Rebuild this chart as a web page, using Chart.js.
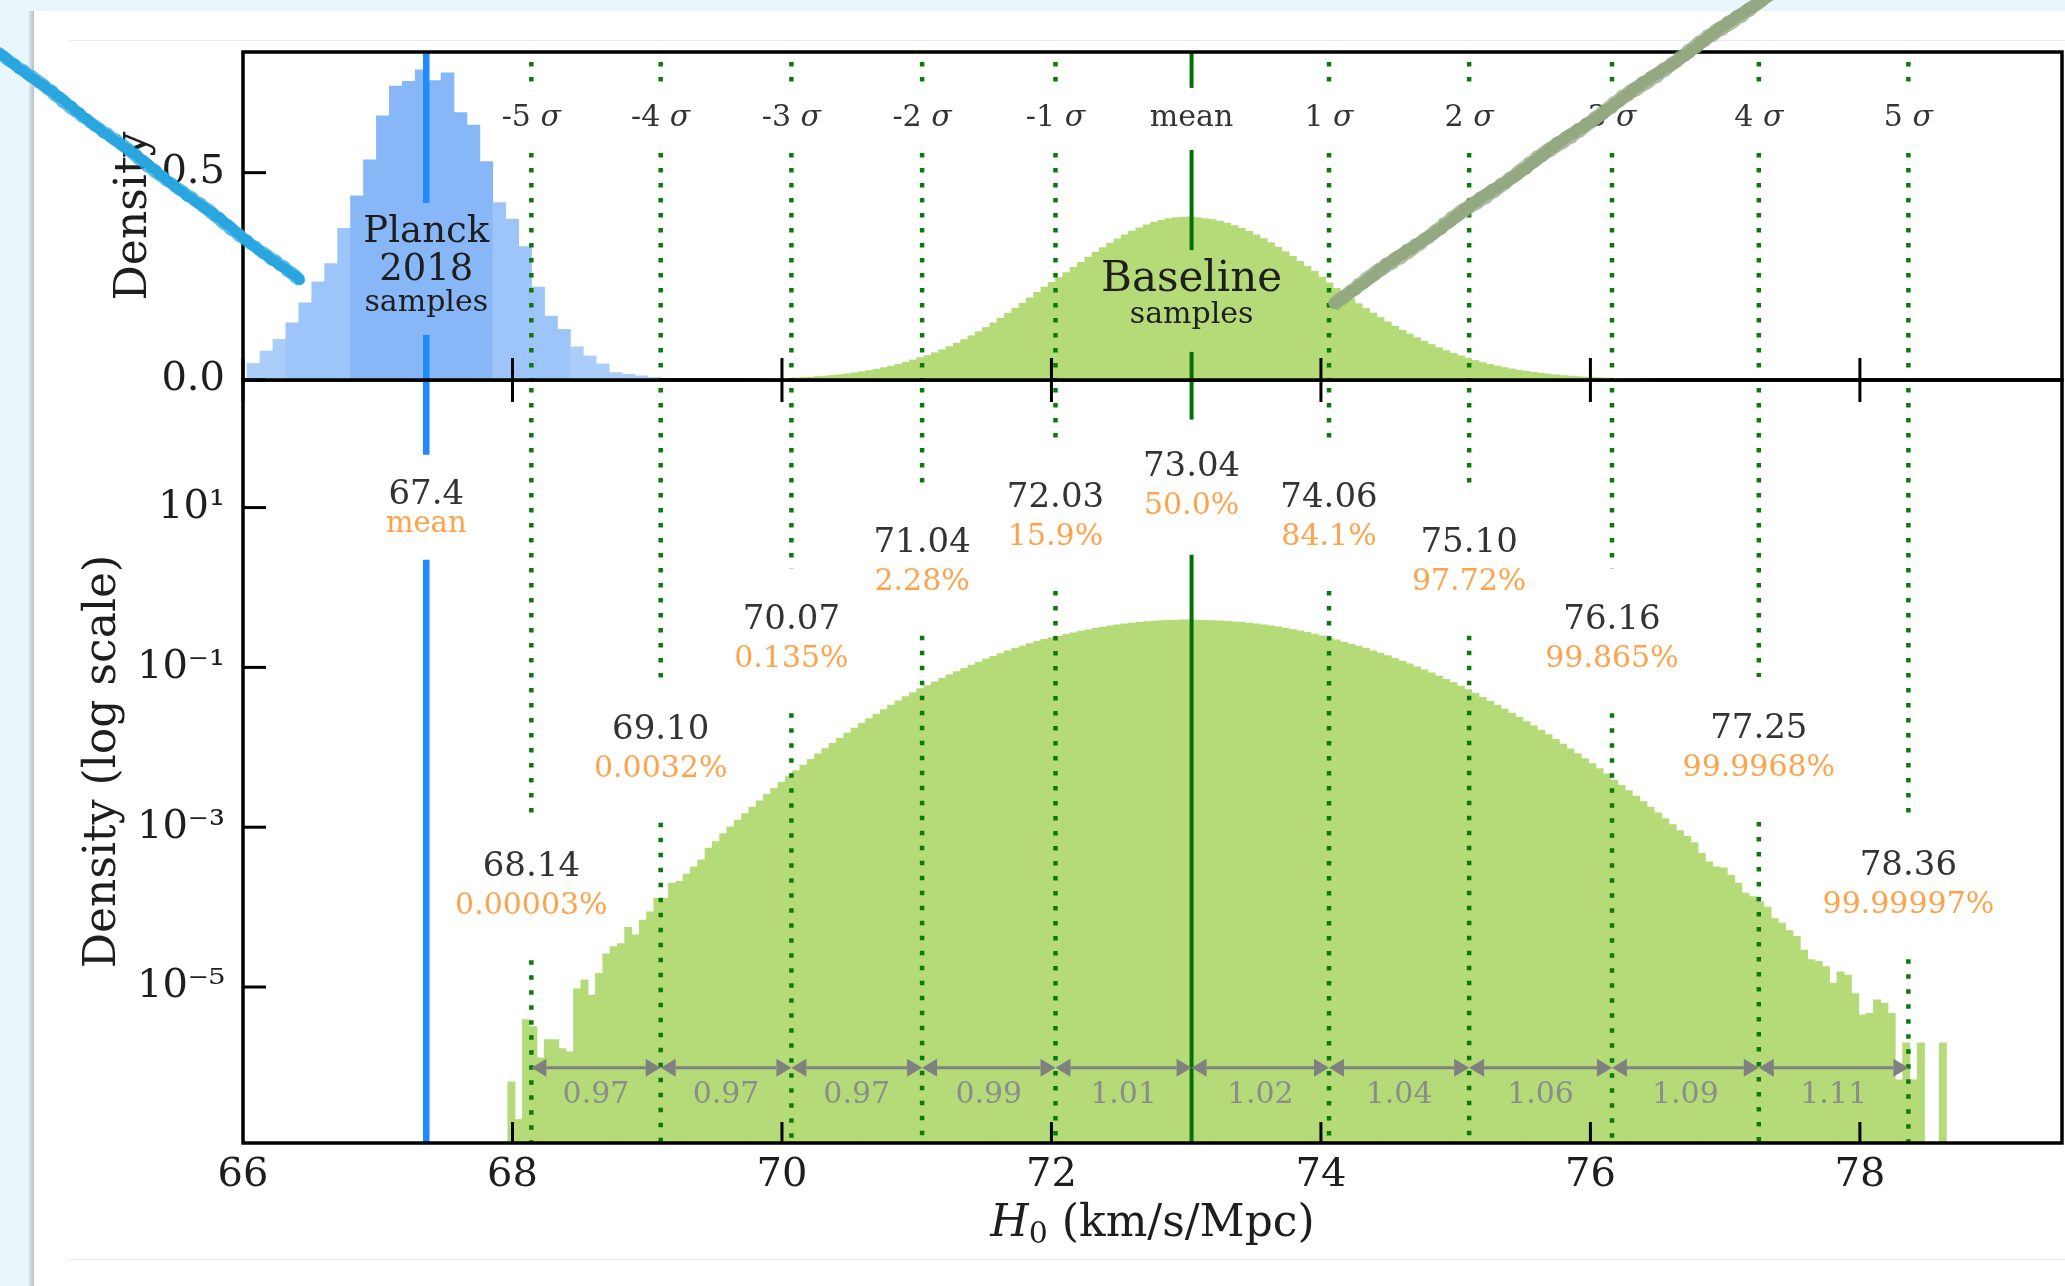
<!DOCTYPE html>
<html>
<head>
<meta charset="utf-8">
<script src="https://cdn.jsdelivr.net/npm/chart.js@4.4.0/dist/chart.umd.min.js"></script>
<style>
  html, body { margin: 0; padding: 0; }
  body { width: 2065px; height: 1286px; background: #e9f6fc; position: relative; overflow: hidden; }
  #sheet { position: absolute; left: 34px; top: 11px; right: 0; bottom: 0; background: #fff; }
  #shadow { position: absolute; left: 29px; top: 11px; width: 5px; bottom: 0; background: linear-gradient(to right, #dbe6ec, #b4c0c8); }
  .rule { position: absolute; left: 68px; right: 0; height: 1px; background: #ececec; }
  canvas { position: absolute; left: 0; top: 0; }
</style>
</head>
<body>
<div id="shadow"></div>
<div id="sheet"></div>
<div class="rule" style="top:40px"></div>
<div class="rule" style="top:1259px"></div>
<canvas id="bottomChart" width="2065" height="1286"></canvas>
<canvas id="topChart" width="2065" height="1286"></canvas>
<script>
// Planck 2018 H0 samples, density per bin
const planckBinStart = 66.03;
const planckBinWidth = 0.096;
const planckDensity = [
  0.040, 0.070, 0.098, 0.138, 0.186, 0.237, 0.281, 0.366, 0.444, 0.531,
  0.637, 0.709, 0.720, 0.748, 0.722, 0.741, 0.645, 0.615, 0.527, 0.428,
  0.388, 0.322, 0.224, 0.154, 0.122, 0.080, 0.058, 0.039, 0.018, 0.014,
  0.010, 0.006,
];
const planckOneSigma = [66.80, 67.86];
const planckTwoSigma = [66.31, 68.43];
const planckMean = 67.36;
const planckLabels = ["67.4", "mean"];

const baselineBinStart = 67.965;
const baselineBinWidth = 0.0542;
const baselineDensity = [
  6.5e-7, 2.2e-7, 3.9e-6, 3.2e-6, 1.3e-6, 2.2e-6, 2.2e-6, 1.7e-6, 1.55e-6, 9.5e-6,
  1.23e-5, 7.9e-6, 1.48e-5, 2.6e-5, 3.2e-5, 3.5e-5, 5.6e-5, 4.5e-5, 6.9e-5, 8.7e-5,
  1.29e-4, 1.29e-4, 2.0e-4, 2.1e-4, 2.6e-4, 3.2e-4, 3.9e-4, 5.5e-4, 6.6e-4, 8.3e-4,
  1.01e-3, 1.23e-3, 1.48e-3, 1.79e-3, 2.14e-3, 2.57e-3, 3.06e-3, 3.64e-3, 4.31e-3, 5.10e-3,
  6.01e-3, 7.06e-3, 8.26e-3, 9.64e-3, 0.0112, 0.0130, 0.0151, 0.0174, 0.0199, 0.0228,
  0.0261, 0.0297, 0.0337, 0.0381, 0.0430, 0.0483, 0.0542, 0.0592, 0.0658, 0.0730,
  0.0806, 0.0888, 0.0975, 0.1068, 0.1166, 0.1269, 0.1377, 0.1490, 0.1607, 0.1728,
  0.1853, 0.1981, 0.2112, 0.2238, 0.2357, 0.2470, 0.2588, 0.2715, 0.2840, 0.2962,
  0.3081, 0.3195, 0.3304, 0.3406, 0.3502, 0.3590, 0.3670, 0.3741, 0.3802, 0.3853,
  0.3890, 0.3915, 0.3928, 0.3932, 0.3918, 0.3895, 0.3866, 0.3830, 0.3782, 0.3725,
  0.3659, 0.3584, 0.3500, 0.3409, 0.3311, 0.3207, 0.3097, 0.2982, 0.2863, 0.2742,
  0.2618, 0.2478, 0.2345, 0.2212, 0.2080, 0.1961, 0.1843, 0.1728, 0.1616, 0.1507,
  0.1401, 0.1299, 0.1202, 0.1109, 0.1020, 0.0935, 0.0856, 0.0781, 0.0710, 0.0645,
  0.0584, 0.0527, 0.0472, 0.0421, 0.0376, 0.0337, 0.0300, 0.0268, 0.0237, 0.0210,
  0.0186, 0.0164, 0.0144, 0.0126, 0.0110, 9.6e-3, 8.35e-3, 7.24e-3, 6.27e-3, 5.41e-3,
  4.65e-3, 3.89e-3, 3.34e-3, 2.87e-3, 2.45e-3, 2.09e-3, 1.78e-3, 1.51e-3, 1.28e-3, 1.08e-3,
  9.1e-4, 7.7e-4, 6.4e-4, 4.7e-4, 3.7e-4, 3.2e-4, 3.1e-4, 2.5e-4, 2.0e-4, 1.5e-4,
  1.35e-4, 1.17e-4, 1.0e-4, 7.2e-5, 6.3e-5, 5.1e-5, 4.3e-5, 2.9e-5, 2.2e-5, 2.1e-5,
  1.8e-5, 1.12e-5, 1.55e-5, 1.41e-5, 8.3e-6, 4.5e-6, 4.7e-6, 6.9e-6, 6.3e-6, 4.7e-6,
  6.9e-7, 2.0e-6, 6.9e-7, 2.0e-6, null, null, 2.0e-6,
];

// sigma markers of the baseline distribution
const sigmaPositions = [68.14, 69.10, 70.07, 71.04, 72.03, 73.04, 74.06, 75.10, 76.16, 77.25, 78.36];
const sigmaNames = ["-5", "-4", "-3", "-2", "-1", "mean", "1", "2", "3", "4", "5"];
const valueLabels = ["68.14", "69.10", "70.07", "71.04", "72.03", "73.04", "74.06", "75.10", "76.16", "77.25", "78.36"];
const percentLabels = ["0.00003%", "0.0032%", "0.135%", "2.28%", "15.9%", "50.0%", "84.1%", "97.72%", "99.865%", "99.9968%", "99.99997%"];
const spacingLabels = ["0.97", "0.97", "0.97", "0.99", "1.01", "1.02", "1.04", "1.06", "1.09", "1.11"];

// where the annotations sit (log10 density in the lower panel, density in the upper one)
const valueLabelLevels = [-3.5, -1.78, -0.41, 0.56, 1.12, 1.5, 1.12, 0.56, -0.41, -1.77, -3.49];
const planckLabelLevel = 1.16;
const arrowLevel = -6.01;
const spacingLabelLevel = -6.35;
const sigmaNameLevel = 0.632;
const planckTextLevels = [0.357, 0.265, 0.186];
const baselineTextLevels = [0.241, 0.157];

// axes
const xTicks = [66, 68, 70, 72, 74, 76, 78];
const linearTicks = [0, 0.5];
const linearTickLabels = ["0.0", "0.5"];
const logTicks = [1e-5, 1e-3, 1e-1, 1e1];
const logTickLabels = ["10⁻⁵", "10⁻³", "10⁻¹", "10¹"];

const FONT = "'DejaVu Serif', serif";
const INK = "#1e1e1e";
const TEXT = "#333333";
const ORANGE = "#ffa24a";
const GREEN_FILL = "#b4db77";
const SIGMA_GREEN = "#0b7a0b";
const MEAN_GREEN = "#067006";
const PLANCK_BLUE = "#1f8bff";
const PLANCK_OUT = "#abcdfa";
const PLANCK_2S = "#9ec5f9";
const PLANCK_1S = "#88b7f7";
const ARROW_GRAY = "#808080";

const inside = (v, r) => v >= r[0] && v <= r[1];

const planckData = planckDensity.map((d, i) => ({ x: planckBinStart + (i + 0.5) * planckBinWidth, y: d }));
const planckColors = planckData.map((p) =>
  inside(p.x, planckOneSigma) ? PLANCK_1S : inside(p.x, planckTwoSigma) ? PLANCK_2S : PLANCK_OUT
);
const baselineData = baselineDensity.map((d, i) => ({ x: baselineBinStart + (i + 0.5) * baselineBinWidth, y: d }));

// helpers
function vseg(ctx, x, y0, y1) {
  if (y1 <= y0) return;
  ctx.beginPath();
  ctx.moveTo(x, y0);
  ctx.lineTo(x, y1);
  ctx.stroke();
}
function dotted(ctx) {
  ctx.strokeStyle = SIGMA_GREEN;
  ctx.lineWidth = 4.5;
  ctx.setLineDash([4.5, 10.5]);
  ctx.lineDashOffset = 0;
}
function solid(ctx, color, w) {
  ctx.strokeStyle = color;
  ctx.lineWidth = w;
  ctx.setLineDash([]);
}
function frame(ctx, a) {
  solid(ctx, "#000", 3.5);
  ctx.strokeRect(a.left, a.top, a.right - a.left, a.bottom - a.top);
}
function text(ctx, str, x, y, size, color, style = "") {
  ctx.font = `${style} ${size}px ${FONT}`;
  ctx.fillStyle = color;
  ctx.textAlign = "center";
  ctx.textBaseline = "middle";
  ctx.fillText(str, x, y);
}
function sigmaName(ctx, name, cx, cy) {
  if (name === "mean") return text(ctx, name, cx, cy, 30, TEXT);
  const num = name + " ";
  ctx.font = `30px ${FONT}`;
  const w1 = ctx.measureText(num).width;
  ctx.font = `italic 30px ${FONT}`;
  const w2 = ctx.measureText("σ").width;
  const x0 = cx - (w1 + w2) / 2;
  ctx.fillStyle = TEXT;
  ctx.textAlign = "left";
  ctx.textBaseline = "middle";
  ctx.font = `30px ${FONT}`;
  ctx.fillText(num, x0, cy);
  ctx.font = `italic 30px ${FONT}`;
  ctx.fillText("σ", x0 + w1, cy);
}
function arrow(ctx, x0, x1, yy) {
  const head = 15, half = 9;
  solid(ctx, ARROW_GRAY, 3);
  ctx.fillStyle = ARROW_GRAY;
  ctx.beginPath();
  ctx.moveTo(x0 + head, yy);
  ctx.lineTo(x1 - head, yy);
  ctx.stroke();
  [[x0, 1], [x1, -1]].forEach(([tip, dir]) => {
    ctx.beginPath();
    ctx.moveTo(tip, yy);
    ctx.lineTo(tip + dir * head, yy - half);
    ctx.lineTo(tip + dir * head, yy + half);
    ctx.closePath();
    ctx.fill();
  });
}
// rough marker stroke: a few wobbly strands along a straight path
function chalk(ctx, p0, p1, color, width) {
  const dx = p1[0] - p0[0], dy = p1[1] - p0[1];
  const len = Math.hypot(dx, dy);
  const nx = -dy / len, ny = dx / len;
  const steps = Math.round(len / 5);
  ctx.save();
  ctx.lineCap = "round";
  ctx.lineJoin = "round";
  ctx.setLineDash([]);
  ctx.strokeStyle = color;
  [[0, width * 0.8, 1, 0], [-width * 0.3, width * 0.35, 0.75, 1.3], [width * 0.3, width * 0.35, 0.75, 2.1]].forEach(([off, w, al, ph]) => {
    ctx.globalAlpha = al;
    ctx.lineWidth = w;
    ctx.beginPath();
    for (let i = 0; i <= steps; i++) {
      const t = i / steps;
      const wob = off + Math.sin(i * 2.7 + ph) * 0.6 + Math.sin(i * 0.31 + ph) * 0.9;
      const px = p0[0] + dx * t + nx * wob;
      const py = p0[1] + dy * t + ny * wob;
      if (i === 0) ctx.moveTo(px, py); else ctx.lineTo(px, py);
    }
    ctx.stroke();
  });
  ctx.restore();
}

const fixedWidth = (w) => (scale) => { scale.width = w; };
const fixedHeight = (h) => (scale) => { scale.height = h; };
const tickFont = { family: FONT, size: 40 };
const titleFont = { family: FONT, size: 44 };

const barStyle = { barPercentage: 1, categoryPercentage: 1, grouped: false, borderWidth: 0 };

// ---------- upper panel (linear density) ----------
const topDecor = {
  id: "topDecor",
  afterDatasetsDraw(chart) {
    const { ctx, chartArea: a, scales: { x, y } } = chart;
    ctx.save();

    // Planck mean line with a gap for its text
    const pxl = x.getPixelForValue(planckMean);
    const pT = planckTextLevels.map((v) => y.getPixelForValue(v));
    solid(ctx, PLANCK_BLUE, 6.5);
    vseg(ctx, pxl, a.top, pT[0] - 29);
    vseg(ctx, pxl, pT[2] + 32, a.bottom);

    // sigma lines
    const nameY = y.getPixelForValue(sigmaNameLevel);
    const bT = baselineTextLevels.map((v) => y.getPixelForValue(v));
    sigmaPositions.forEach((v, i) => {
      const lx = x.getPixelForValue(v);
      if (sigmaNames[i] === "mean") {
        solid(ctx, MEAN_GREEN, 4);
        vseg(ctx, lx, a.top, nameY - 30);
        vseg(ctx, lx, nameY + 32, bT[0] - 30);
        vseg(ctx, lx, bT[1] + 37, a.bottom);
      } else {
        dotted(ctx);
        vseg(ctx, lx, a.top + 10, nameY - 35);
        vseg(ctx, lx, nameY + 35, a.bottom);
      }
    });

    // ticks: y inward, x straddling the zero line
    solid(ctx, "#000", 3);
    linearTicks.forEach((v) => {
      const ty = y.getPixelForValue(v);
      ctx.beginPath(); ctx.moveTo(a.left, ty); ctx.lineTo(a.left + 23, ty); ctx.stroke();
    });
    xTicks.forEach((v) => {
      const tx = x.getPixelForValue(v);
      ctx.beginPath(); ctx.moveTo(tx, a.bottom - 22); ctx.lineTo(tx, a.bottom + 22); ctx.stroke();
    });
    frame(ctx, a);

    // texts
    sigmaPositions.forEach((v, i) => sigmaName(ctx, sigmaNames[i], x.getPixelForValue(v), nameY));
    text(ctx, "Planck", pxl, pT[0], 37, INK);
    text(ctx, "2018", pxl, pT[1], 37, INK);
    text(ctx, "samples", pxl, pT[2], 30, INK);
    const mx = x.getPixelForValue(sigmaPositions[5]);
    text(ctx, "Baseline", mx, bT[0], 42, INK);
    text(ctx, "samples", mx, bT[1], 30, INK);
    ctx.restore();
  },
  afterDraw(chart) {
    const { ctx, scales: { x, y } } = chart;
    // hand-drawn pointers on the slide
    const P = (vx, vy) => [x.getPixelForValue(vx), y.getPixelForValue(vy)];
    chalk(ctx, P(64.19, 0.79), P(66.42, 0.241), "#2aa6df", 13);
    chalk(ctx, P(74.10, 0.186), P(77.48, 0.965), "#94a882", 15);
  },
};

new Chart(document.getElementById("topChart"), {
  type: "bar",
  data: {
    datasets: [
      { label: "Planck 2018 samples", xAxisID: "xp", data: planckData, backgroundColor: planckColors, ...barStyle },
      { label: "Baseline samples", xAxisID: "x", data: baselineData, backgroundColor: GREEN_FILL, ...barStyle },
    ],
  },
  options: {
    responsive: false,
    animation: false,
    devicePixelRatio: 1,
    events: [],
    layout: { padding: { left: 108, right: 3, top: 52, bottom: 906 } },
    plugins: { legend: { display: false }, tooltip: { enabled: false } },
    scales: {
      x: {
        type: "linear", min: 66, max: 79.5, offset: false, bounds: "data",
        grid: { display: false }, border: { display: false },
        ticks: { display: false },
        afterBuildTicks: (s) => { s.ticks = xTicks.map((v) => ({ value: v })); },
        afterFit: fixedHeight(0),
      },
      xp: { type: "linear", min: 66, max: 79.5, offset: false, bounds: "data", display: false },
      y: {
        type: "linear", min: 0, max: 0.791, bounds: "data",
        grid: { display: false }, border: { display: false },
        afterBuildTicks: (s) => { s.ticks = linearTicks.map((v) => ({ value: v })); },
        ticks: {
          font: tickFont, color: INK, padding: 10, autoSkip: false,
          callback: (v) => linearTickLabels[linearTicks.indexOf(v)],
        },
        title: { display: true, text: "Density", font: titleFont, color: INK, padding: 0 },
        afterFit: fixedWidth(135),
      },
    },
  },
  plugins: [topDecor],
});

// ---------- lower panel (log density) ----------
const bottomDecor = {
  id: "bottomDecor",
  afterDatasetsDraw(chart) {
    const { ctx, chartArea: a, scales: { x, y } } = chart;
    ctx.save();
    ctx.beginPath();
    ctx.rect(a.left, a.top, a.right - a.left, a.bottom - a.top);
    ctx.clip();

    const pxl = x.getPixelForValue(planckMean);
    const pY = y.getPixelForValue(10 ** planckLabelLevel);
    solid(ctx, PLANCK_BLUE, 6.5);
    vseg(ctx, pxl, a.top, pY - 40);
    vseg(ctx, pxl, pY + 65, a.bottom);

    const levelsY = valueLabelLevels.map((v) => y.getPixelForValue(10 ** v));
    sigmaPositions.forEach((v, i) => {
      const lx = x.getPixelForValue(v);
      const ny = levelsY[i];
      if (sigmaNames[i] === "mean") {
        solid(ctx, MEAN_GREEN, 4);
        vseg(ctx, lx, a.top, ny - 48);
        vseg(ctx, lx, ny + 39 + 48, a.bottom);
      } else {
        dotted(ctx);
        vseg(ctx, lx, a.top + 8, ny - 52);
        vseg(ctx, lx, ny + 39 + 54, a.bottom);
      }
    });

    // spacing arrows between neighbouring sigma lines
    const ay = y.getPixelForValue(10 ** arrowLevel);
    const sy = y.getPixelForValue(10 ** spacingLabelLevel);
    spacingLabels.forEach((lab, i) => {
      const x0 = x.getPixelForValue(sigmaPositions[i]);
      const x1 = x.getPixelForValue(sigmaPositions[i + 1]);
      arrow(ctx, x0, x1, ay);
      text(ctx, lab, (x0 + x1) / 2, sy, 30, "#8c8c8c");
    });
    ctx.restore();

    ctx.save();
    // value labels
    text(ctx, planckLabels[0], pxl, pY, 34, TEXT);
    text(ctx, planckLabels[1], pxl, pY + 30, 29, ORANGE);
    sigmaPositions.forEach((v, i) => {
      const lx = x.getPixelForValue(v);
      text(ctx, valueLabels[i], lx, levelsY[i], 34, TEXT);
      text(ctx, percentLabels[i], lx, levelsY[i] + 39, 30, ORANGE);
    });

    // inward ticks and frame
    solid(ctx, "#000", 3);
    xTicks.forEach((v) => {
      if (v === x.min) return;
      const tx = x.getPixelForValue(v);
      ctx.beginPath(); ctx.moveTo(tx, a.bottom); ctx.lineTo(tx, a.bottom - 21); ctx.stroke();
    });
    logTicks.forEach((v) => {
      const ty = y.getPixelForValue(v);
      ctx.beginPath(); ctx.moveTo(a.left, ty); ctx.lineTo(a.left + 23, ty); ctx.stroke();
    });
    frame(ctx, a);

    // x axis title: italic H with subscript 0
    const cx = (a.left + a.right) / 2;
    const cy = a.bottom + 82;
    ctx.fillStyle = INK;
    ctx.textBaseline = "middle";
    ctx.textAlign = "left";
    ctx.font = `italic 44px ${FONT}`;
    const wH = ctx.measureText("H").width;
    ctx.font = `30px ${FONT}`;
    const w0 = ctx.measureText("0").width;
    ctx.font = `44px ${FONT}`;
    const rest = " (km/s/Mpc)";
    const wR = ctx.measureText(rest).width;
    let tx = cx - (wH + w0 + wR) / 2;
    ctx.font = `italic 44px ${FONT}`;
    ctx.fillText("H", tx, cy);
    tx += wH;
    ctx.font = `30px ${FONT}`;
    ctx.fillText("0", tx, cy + 10);
    tx += w0;
    ctx.font = `44px ${FONT}`;
    ctx.fillText(rest, tx, cy);
    ctx.restore();
  },
};

new Chart(document.getElementById("bottomChart"), {
  type: "bar",
  data: {
    datasets: [
      { label: "Baseline samples", data: baselineData, backgroundColor: GREEN_FILL, ...barStyle },
    ],
  },
  options: {
    responsive: false,
    animation: false,
    devicePixelRatio: 1,
    events: [],
    layout: { padding: { left: 77, right: 3, top: 380, bottom: 0 } },
    plugins: { legend: { display: false }, tooltip: { enabled: false } },
    scales: {
      x: {
        type: "linear", min: 66, max: 79.5, offset: false, bounds: "data",
        grid: { display: false }, border: { display: false },
        afterBuildTicks: (s) => { s.ticks = xTicks.map((v) => ({ value: v })); },
        ticks: { font: tickFont, color: INK, padding: 1, autoSkip: false, maxRotation: 0, callback: (v) => String(v) },
        afterFit: fixedHeight(143),
      },
      y: {
        type: "logarithmic", min: 1.117e-7, max: 395, bounds: "data",
        grid: { display: false }, border: { display: false },
        afterBuildTicks: (s) => { s.ticks = logTicks.map((v) => ({ value: v })); },
        ticks: {
          font: tickFont, color: INK, padding: 10, autoSkip: false,
          callback: (v) => logTickLabels[logTicks.indexOf(v)],
        },
        title: { display: true, text: "Density (log scale)", font: titleFont, color: INK, padding: 0 },
        afterFit: fixedWidth(166),
      },
    },
  },
  plugins: [bottomDecor],
});
</script>
</body>
</html>
